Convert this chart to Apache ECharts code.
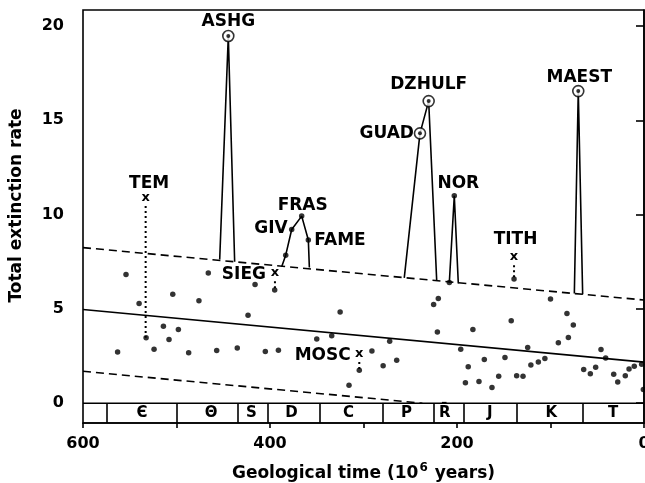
<!DOCTYPE html>
<html><head><meta charset="utf-8">
<script src="https://cdn.jsdelivr.net/npm/echarts@6/dist/echarts.min.js"></script>
<style>html,body{margin:0;padding:0;background:#fff}#c{width:645px;height:483px}</style>
</head><body><div id="c"></div>
<script>
// ---------------- data ----------------
const xTickLabels = [600, 400, 200, 0];
const xTicks = [600, 500, 400, 300, 200, 100, 0];
const yTickLabels = [0, 5, 10, 15, 20];

// background stage extinction rates: [time (Ma), total extinction rate]
const stageDots = [
  [554,6.83],[466,6.91],[540,5.29],[504,5.78],[476,5.43],[416,6.30],[423.5,4.67],
  [514,4.08],[498,3.91],[532.5,3.47],[508,3.38],[563,2.71],[524,2.86],[487,2.67],
  [457,2.79],[435,2.93],[405,2.74],[391,2.81],[395,6.0],[383.2,7.85],[325,4.84],
  [350,3.40],[334,3.57],[272,3.29],[291,2.77],[264.5,2.28],[279,1.98],[304.5,1.75],
  [315.5,0.95],[220,5.55],[225,5.23],[221,3.78],[208.2,6.40],[139,6.58],[100,5.52],
  [142,4.37],[183,3.91],[82.4,4.76],[75.6,4.14],[80.9,3.49],[91.6,3.20],[196,2.86],
  [124.4,2.95],[148.7,2.42],[170.8,2.32],[188,1.93],[106,2.37],[113,2.19],[121,2.02],
  [155.4,1.43],[136.2,1.45],[129.4,1.43],[176.5,1.15],[191,1.08],[162.6,0.83],
  [46,2.85],[41,2.40],[64.5,1.79],[57.4,1.56],[51.7,1.91],[32.4,1.54],[28.1,1.13],
  [20,1.45],[16,1.82],[10.4,1.96],[2.5,2.07],[0.7,0.73]
];

// mass-extinction peaks (polylines)
const peakASHG = [[453.8,7.62],[444.6,19.47],[437.8,7.50]];
const peakDevonian = [[387.5,7.23],[383.2,7.85],[376.8,9.21],[366.1,9.92],[359,8.65],[357.9,7.2]];
const peakPermian = [[256.4,6.65],[239.6,14.31],[230.3,16.02],[221.7,6.49]];
const peakNOR = [[208.2,6.40],[202.9,11.0],[198.6,6.35]];
const peakMAEST = [[74.5,5.82],[70.3,16.55],[65.6,5.77]];

// named stages: [name, time, rate]
const ringStages = [['ASHG',444.6,19.47],['GUAD',239.6,14.31],['DZHULF',230.3,16.02],['MAEST',70.3,16.55]];
const dotStages = [['GIV',376.8,9.21],['FRAS',366.1,9.92],['FAME',359,8.65],['NOR',202.9,11.0]];
// cross-marked stages: [name, time, rate, rate of linked dot]
const crossStages = [['TEM',533,10.91,3.47],['SIEG',394.7,6.91,6.0],['TITH',139,7.76,6.58],['MOSC',304.5,2.64,1.75]];

// regression line and confidence band
const upperBand = [[600,8.25],[0,5.47]];
const meanTrend = [[600,4.97],[0,2.18]];
const lowerBand = [[600,1.69],[237,0]];

// geological periods
const periodNames = ['\u0404','\u0398','S','D','C','P','R\u0304','J','K','T'];
const periodMid = [537, 463, 420, 377, 316, 254, 213, 165, 99, 33];
const periodBounds = [575, 500, 434, 402.5, 347, 279, 225, 193, 136, 65];

// ---------------- layout / style ----------------
const STRIP = -1.05;
const FONT = 'DejaVu Sans';
const labelLayout = {
  ASHG:['center',0,-14.5], DZHULF:['center',0,-16.5], MAEST:['center',1,-14], GUAD:['right',-6,0],
  NOR:['center',4,-12.5], TEM:['center',3.5,-14], FRAS:['center',1,-11], GIV:['right',-4,-1],
  FAME:['left',6,0.7], SIEG:['right',-9,2], TITH:['center',1.5,-17], MOSC:['right',-8.5,2.5]
};
const lineW = 1.6;

const series = [];
function addLine(data, type, w) {
  series.push({type:'line', data, symbol:'none', silent:true, z:3,
    lineStyle:{color:'#000', width:w||lineW, type:type||'solid'}});
}
addLine(upperBand, [8,5]);
addLine(meanTrend, 'solid');
addLine(lowerBand, [8,5]);
[peakASHG, peakDevonian, peakPermian, peakNOR, peakMAEST].forEach(p => addLine(p, 'solid'));
// dotted links from cross marks to dots
crossStages.forEach(c => addLine([[c[1], c[2]-0.45],[c[1], c[3]]], [2,3], 2));
// strip top boundary and period dividers
series.push({type:'line', data:[[600,0],[0,0]], symbol:'none', silent:true, z:3,
  lineStyle:{color:'#000', width:lineW},
  markLine:{silent:true, symbol:'none', label:{show:false},
    lineStyle:{color:'#000', width:lineW, type:'solid'},
    data: periodBounds.map(t => [{coord:[t,0]},{coord:[t,STRIP]}])}});

const txt = (size) => ({color:'#000', opacity:1, fontFamily:FONT, fontWeight:'bold', fontSize:size, textBorderWidth:0});

// dots
series.push({type:'scatter', data: stageDots.concat(dotStages.map(d=>[d[1],d[2]])),
  symbol:'circle', symbolSize:5.5, itemStyle:{color:'#000'}, z:5, silent:true});
// ring markers
series.push({type:'scatter', data: ringStages.map(d=>[d[1],d[2]]), symbol:'circle', symbolSize:11,
  itemStyle:{color:'#fff', borderColor:'#000', borderWidth:1.6}, z:6, silent:true});
series.push({type:'scatter', data: ringStages.map(d=>[d[1],d[2]]), symbol:'circle', symbolSize:4,
  itemStyle:{color:'#000'}, z:7, silent:true});
// cross markers
series.push({type:'scatter', data: crossStages.map(d=>[d[1],d[2]]), symbolSize:1,
  itemStyle:{color:'rgba(0,0,0,0)'}, z:7, silent:true,
  label:Object.assign({show:true, position:'inside', formatter:'x'}, txt(13))});
// stage name labels
const allNamed = ringStages.concat(dotStages, crossStages.map(c=>[c[0],c[1],c[2]]));
allNamed.forEach(d => {
  const L = labelLayout[d[0]];
  series.push({type:'scatter', data:[[d[1], d[2]]], symbolSize:1, itemStyle:{color:'rgba(0,0,0,0)'},
    z:8, silent:true,
    label:Object.assign({show:true, position:'inside', formatter:d[0], align:L[0], verticalAlign:'middle',
      offset:[L[1], L[2]]}, txt(17))});
});
// period letters
series.push({type:'scatter', data: periodMid.map((t,i)=>[t, STRIP/2, periodNames[i]]), symbolSize:1,
  itemStyle:{color:'rgba(0,0,0,0)'}, z:8, silent:true,
  label:Object.assign({show:true, position:'inside', formatter: p => p.data[2]}, txt(15))});

const chart = echarts.init(document.getElementById('c'), null, {renderer:'canvas'});
chart.setOption({
  animation:false,
  backgroundColor:'#fff',
  grid:{left:83, right:1, top:10, bottom:60, show:true, borderColor:'#000', borderWidth:lineW,
    containLabel:false, outerBoundsMode:'none'},
  xAxis:{type:'value', min:0, max:600, inverse:true,
    name:'{a|Geological time (10}{s|6}{a| years)}', nameLocation:'middle', nameGap:39,
    nameTextStyle:{rich:{
      a:Object.assign(txt(17), {}),
      s:Object.assign(txt(12), {padding:[0,1,11,1]})}},
    axisLine:{show:true, onZero:false, lineStyle:{color:'#000', width:lineW}},
    axisTick:{show:true, length:5, lineStyle:{color:'#000', width:lineW}, customValues:xTicks},
    axisLabel:Object.assign({customValues:xTickLabels, margin:13}, txt(16)),
    splitLine:{show:false}},
  yAxis:{type:'value', min:STRIP, max:20.85,
    name:'Total extinction rate', nameLocation:'middle', nameGap:58, nameRotate:90,
    nameTextStyle:Object.assign(txt(17), {padding:[0,0,0,22]}),
    axisLine:{show:true, lineStyle:{color:'#000', width:lineW}},
    axisTick:{show:true, length:8, lineStyle:{color:'#000', width:lineW}, customValues:yTickLabels},
    axisLabel:Object.assign({customValues:yTickLabels, margin:19}, txt(16)),
    splitLine:{show:false}},
  series
});
</script></body></html>
